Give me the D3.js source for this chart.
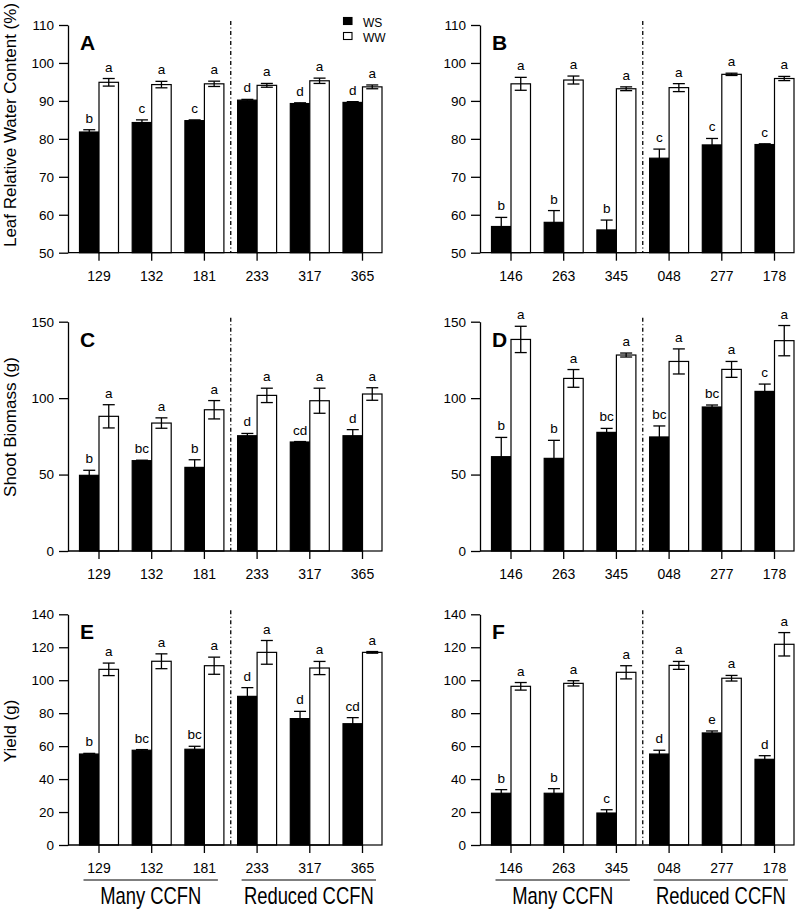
<!DOCTYPE html>
<html><head><meta charset="utf-8">
<script src="https://cdn.jsdelivr.net/npm/d3@7"></script>
<style>
body{margin:0;background:#fff}
svg{display:block}
text{font-family:"Liberation Sans",Arial,Helvetica,sans-serif;fill:#000}
</style>
</head><body>
<svg id="chart" width="797" height="911"></svg>
<script>
// ---------- data ----------
const catsLeft  = ["129","132","181","233","317","365"];
const catsRight = ["146","263","345","048","277","178"];
const seriesNames = ["WS","WW"];
const groupNames = ["Many CCFN","Reduced CCFN"];

// A: Leaf relative water content, left genotypes
const aWS = [81.8,84.3,84.8,90.2,89.3,89.6];
const aWSerr = [0.6,0.7,0.2,0.2,0.2,0.2];
const aWW = [94.9,94.3,94.5,94.1,95.3,93.7];
const aWWerr = [1.0,0.85,0.7,0.5,0.7,0.5];
const aWSlet = ["b","c","c","d","d","d"];
const aWWlet = ["a","a","a","a","a","a"];
// B
const bWS = [56.9,58.0,56.0,74.9,78.4,78.5];
const bWSerr = [2.4,3.1,2.6,2.4,1.7,0.2];
const bWW = [94.5,95.5,93.2,93.5,97.0,95.9];
const bWWerr = [1.7,1.05,0.5,1.05,0.3,0.55];
const bWSlet = ["b","b","b","c","c","c"];
const bWWlet = ["a","a","a","a","a","a"];
// C: Shoot biomass
const cWS = [49.5,59.1,54.7,75.4,71.3,75.4];
const cWSerr = [3.3,0.3,5.0,1.5,0.3,4.0];
const cWW = [88.1,83.7,92.4,101.8,98.3,102.7];
const cWWerr = [7.6,3.4,6.0,4.7,8.2,4.1];
const cWSlet = ["b","bc","b","d","cd","d"];
const cWWlet = ["a","a","a","a","a","a"];
// D
const dWS = [61.7,60.6,77.6,74.6,94.2,104.4];
const dWSerr = [12.6,11.8,2.6,7.2,1.3,4.8];
const dWW = [138.4,112.9,128.2,124.0,118.8,137.6];
const dWWerr = [8.6,5.8,1.3,8.2,5.2,9.9];
const dWSlet = ["b","b","bc","bc","bc","c"];
const dWWlet = ["a","a","a","a","a","a"];
// E: Yield
const eWS = [55.2,57.5,58.1,90.2,76.7,73.6];
const eWSerr = [0.4,0.4,1.8,5.3,4.4,3.7];
const eWW = [106.6,111.5,108.8,116.9,107.4,116.9];
const eWWerr = [3.8,4.5,5.2,7.2,4.0,0.5];
const eWSlet = ["b","bc","bc","d","d","cd"];
const eWWlet = ["a","a","a","a","a","a"];
// F
const fWS = [31.4,31.4,19.4,55.2,68.0,52.0];
const fWSerr = [2.2,2.8,2.0,2.3,1.2,2.2];
const fWW = [96.3,98.1,104.8,109.0,101.2,121.8];
const fWWerr = [2.3,1.6,4.0,2.4,1.7,7.1];
const fWSlet = ["b","b","c","d","e","d"];
const fWWlet = ["a","a","a","a","a","a"];

const ticksLRWC = [50,60,70,80,90,100,110];
const ticksBiomass = [0,50,100,150];
const ticksYield = [0,20,40,60,80,100,120,140];
const yLabels = ["Leaf Relative Water Content (%)","Shoot Biomass (g)","Yield (g)"];

// ---------- layout ----------
const FONT = '"Liberation Sans",Arial,Helvetica,sans-serif';
const svg = d3.select("#chart");

const panels = [
  {id:"A", cats:catsLeft,  ws:aWS, wse:aWSerr, ww:aWW, wwe:aWWerr, wsl:aWSlet, wwl:aWWlet, ticks:ticksLRWC,    axX:68,  top:25,    bot:252.7, ylab:yLabels[0], labY:125, groups:false},
  {id:"B", cats:catsRight, ws:bWS, wse:bWSerr, ww:bWW, wwe:bWWerr, wsl:bWSlet, wwl:bWWlet, ticks:ticksLRWC,    axX:480, top:25,    bot:252.7, ylab:null, groups:false},
  {id:"C", cats:catsLeft,  ws:cWS, wse:cWSerr, ww:cWW, wwe:cWWerr, wsl:cWSlet, wwl:cWWlet, ticks:ticksBiomass, axX:68,  top:321.7, bot:551,   ylab:yLabels[1], labY:427, groups:false},
  {id:"D", cats:catsRight, ws:dWS, wse:dWSerr, ww:dWW, wwe:dWWerr, wsl:dWSlet, wwl:dWWlet, ticks:ticksBiomass, axX:480, top:321.7, bot:551,   ylab:null, groups:false},
  {id:"E", cats:catsLeft,  ws:eWS, wse:eWSerr, ww:eWW, wwe:eWWerr, wsl:eWSlet, wwl:eWWlet, ticks:ticksYield,   axX:68,  top:614.3, bot:845,   ylab:yLabels[2], labY:731, groups:true},
  {id:"F", cats:catsRight, ws:fWS, wse:fWSerr, ww:fWW, wwe:fWWerr, wsl:fWSlet, wwl:fWWlet, ticks:ticksYield,   axX:480, top:614.3, bot:845,   ylab:null, groups:true}
];

panels.forEach(p => {
  const g = svg.append("g");
  const dMin = d3.min(p.ticks), dMax = d3.max(p.ticks);
  const y = d3.scaleLinear().domain([dMin, dMax]).range([p.bot, p.top]);
  const x0 = d3.scaleBand().domain(p.cats).range([p.axX + 11.5, p.axX + 11.5 + 302.5]).paddingInner(0.26).paddingOuter(0);
  const x1 = d3.scaleBand().domain(seriesNames).range([0, x0.bandwidth()]).padding(0);

  const rows = p.cats.map((c,i) => ({cat:c, vals:[
    {s:"WS", v:p.ws[i], e:p.wse[i], l:p.wsl[i]},
    {s:"WW", v:p.ww[i], e:p.wwe[i], l:p.wwl[i]}
  ]}));

  // bars
  const grp = g.selectAll("g.grp").data(rows).join("g")
    .attr("transform", d => `translate(${x0(d.cat)},0)`);
  grp.selectAll("rect").data(d => d.vals).join("rect")
    .attr("x", d => x1(d.s)).attr("width", x1.bandwidth())
    .attr("y", d => y(d.v)).attr("height", d => y(dMin) - y(d.v))
    .attr("fill", d => d.s === "WS" ? "#000" : "#fff")
    .attr("stroke", "#000").attr("stroke-width", 1.2);

  // error bars
  const eb = grp.selectAll("g.eb").data(d => d.vals).join("g");
  const cx = d => x1(d.s) + x1.bandwidth()/2;
  const capW = 6;
  eb.append("line").attr("x1", cx).attr("x2", cx)
    .attr("y1", d => y(d.v - d.e)).attr("y2", d => y(d.v + d.e))
    .attr("stroke", "#000").attr("stroke-width", 1.3);
  eb.append("line").attr("x1", d => cx(d)-capW).attr("x2", d => cx(d)+capW)
    .attr("y1", d => y(d.v + d.e)).attr("y2", d => y(d.v + d.e))
    .attr("stroke", "#000").attr("stroke-width", 1.3);
  eb.filter(d => d.s === "WW").append("line").attr("x1", d => cx(d)-capW).attr("x2", d => cx(d)+capW)
    .attr("y1", d => y(d.v - d.e)).attr("y2", d => y(d.v - d.e))
    .attr("stroke", "#000").attr("stroke-width", 1.3);
  // significance letters
  eb.append("text").attr("x", cx).attr("y", d => y(d.v + d.e) - 7)
    .attr("text-anchor", "middle").attr("font-size", 13.5).text(d => d.l);

  // y axis
  const ya = g.append("g").attr("transform", `translate(${p.axX},0)`)
    .call(d3.axisLeft(y).tickValues(p.ticks).tickSize(9).tickPadding(5).tickSizeOuter(0));
  ya.select(".domain").attr("stroke-width", 1.3);
  ya.selectAll(".tick line").attr("stroke-width", 1.3);
  ya.selectAll(".tick text").attr("font-size", 13.5).attr("font-family", FONT).attr("fill", "#000");

  // x axis line & ticks
  const tickXs = p.cats.map(c => x0(c) + x0.bandwidth()/2);
  g.append("line").attr("x1", p.axX).attr("x2", d3.max(tickXs))
    .attr("y1", y(dMin)).attr("y2", y(dMin)).attr("stroke", "#000").attr("stroke-width", 1.3);
  const xa = g.append("g").attr("transform", `translate(0,${y(dMin)})`)
    .call(d3.axisBottom(x0).tickSize(8).tickPadding(10).tickSizeOuter(0));
  xa.select(".domain").remove();
  xa.selectAll(".tick line").attr("stroke-width", 1.3);
  xa.selectAll(".tick text").attr("font-size", 14).attr("font-family", FONT).attr("fill", "#000");

  // divider (dash-dot)
  const divX = (x0(p.cats[2]) + x0.bandwidth() + x0(p.cats[3])) / 2;
  g.append("line").attr("x1", divX).attr("x2", divX)
    .attr("y1", p.top - 4).attr("y2", y(dMin))
    .attr("stroke", "#000").attr("stroke-width", 1.3).attr("stroke-dasharray", "4,2.5,1,2.5");

  // panel letter
  g.append("text").attr("x", p.axX + 12).attr("y", p.top + 25)
    .attr("font-size", 21).attr("font-weight", "bold").text(p.id);

  // y label
  if (p.ylab) {
    g.append("text").attr("transform", `translate(16,${p.labY}) rotate(-90)`)
      .attr("text-anchor", "middle").attr("font-size", 17).text(p.ylab);
  }

  // group underline + labels
  if (p.groups) {
    const spans = [[p.cats[0], p.cats[2]], [p.cats[3], p.cats[5]]];
    spans.forEach((sp, k) => {
      const xs = x0(sp[0]) + 4, xe = x0(sp[1]) + x0.bandwidth() - 6;
      g.append("line").attr("x1", xs).attr("x2", xe).attr("y1", 880).attr("y2", 880)
        .attr("stroke", "#000").attr("stroke-width", 1.2);
      g.append("text").attr("transform", `translate(${(xs+xe)/2},904) scale(0.8,1)`)
        .attr("text-anchor", "middle").attr("font-size", 23).text(groupNames[k]);
    });
  }

  // legend in panel A
  if (p.id === "A") {
    const lg = g.append("g");
    seriesNames.forEach((s, k) => {
      lg.append("rect").attr("x", 343.5).attr("y", 17.5 + k*15).attr("width", 8.5).attr("height", 7)
        .attr("fill", s === "WS" ? "#000" : "#fff").attr("stroke", "#000").attr("stroke-width", 1.1);
      lg.append("text").attr("x", 363).attr("y", 26.5 + k*15).attr("font-size", 12).text(s);
    });
  }
});
</script>
</body></html>
